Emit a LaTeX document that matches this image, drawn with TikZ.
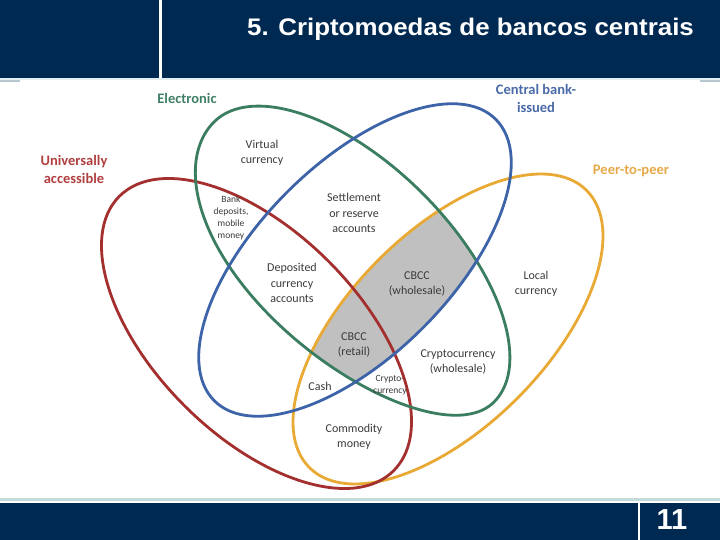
\documentclass[tikz,border=0pt]{standalone}
\usepackage{fontspec}
\usepackage{graphicx}
\setmainfont{Carlito}
\newfontfamily\arialfont{Liberation Sans}
\definecolor{navy}{RGB}{0,41,82}
\definecolor{vgreen}{HTML}{3B7D60}
\definecolor{vblue}{HTML}{3D64A8}
\definecolor{vred}{HTML}{A3302F}
\definecolor{vorange}{HTML}{E8A935}
\definecolor{lgreen}{HTML}{3F7F66}
\definecolor{lblue}{HTML}{4A6AA8}
\definecolor{lred}{HTML}{B0403F}
\definecolor{lorange}{HTML}{E6A94A}
\definecolor{txt}{HTML}{3A3A3A}
\definecolor{cbcc}{RGB}{192,192,192}
\definecolor{hline}{HTML}{E2EEF0}
\definecolor{hseg}{HTML}{B8C8D0}
\definecolor{fline}{HTML}{C5DADA}
\begin{document}
\begin{tikzpicture}[x=1pt,y=-1pt,
  venn/.style={line width=2.8pt, line join=round},
  greenrot/.style={rotate around={-45:(354,262)}},
  bluerot/.style={rotate around={45:(355,260)}},
  redrot/.style={rotate around={-45:(256.5,333.5)}},
  orangerot/.style={rotate around={45:(448,329)}},
  lbl/.style={font=\fontsize{12}{15.5}\selectfont, text=txt, align=center, inner sep=0pt},
  smalllbl/.style={font=\fontsize{9.5}{12}\selectfont, text=txt, align=center, inner sep=0pt},
  cat/.style={font=\fontsize{14.5}{18}\selectfont\bfseries, align=center, inner sep=0pt}]
\useasboundingbox (0,0) rectangle (720,540);
% header
\fill[navy] (0,0) rectangle (720,78);
\fill[white] (159,0) rectangle (161.8,78);
\fill[hline] (0,78) rectangle (720,80);
\fill[hseg] (0,80) rectangle (20,82.5);
\fill[hseg] (700,80) rectangle (720,82.5);
\node[anchor=base west, inner sep=0pt, text=white, font=\arialfont\bfseries\fontsize{24}{28}\selectfont] (title) at (247,36) {\scalebox{1.078}[1]{5. Criptomoedas de bancos centrais}};
% footer
\fill[fline] (0,497.8) rectangle (720,500.5);
\fill[navy] (0,502.5) rectangle (720,540);
\fill[white] (637.5,502.5) rectangle (639.8,540);
\node[inner sep=0pt, text=white, font=\arialfont\bfseries\fontsize{29}{32}\selectfont] (page) at (672,520) {11};
% the "electronic" oval is egg-shaped: wider at its upper-left end
\def\greenegg{plot[domain=0:360, samples=181] ({354+198*cos(\x)}, {262+97*sin(\x)-9.7*cos(\x)*max(sin(\x),0)}) -- cycle}
% CBCC region: inside electronic, central-bank-issued and peer-to-peer
\begin{scope}
  \clip[greenrot] \greenegg;
  \clip[bluerot] (355,260) ellipse [x radius=199pt, y radius=96pt];
  \fill[cbcc, orangerot] (448,329) ellipse [x radius=196pt, y radius=98pt];
\end{scope}
% the four sets
\draw[venn, vorange, orangerot] (448,329) ellipse [x radius=196pt, y radius=98pt];
\draw[venn, vred, redrot] (256.5,333.5) ellipse [x radius=194pt, y radius=102pt];
\draw[venn, vgreen, greenrot] \greenegg;
\draw[venn, vblue, bluerot] (355,260) ellipse [x radius=199pt, y radius=96pt];
% category labels
\node[cat, text=lgreen] (electronic) at (187,98) {Electronic};
\node[cat, text=lred] (universal) at (74,169) {Universally\\accessible};
\node[cat, text=lblue] (cbissued) at (536,98) {Central bank-\\issued};
\node[cat, text=lorange] (p2p) at (631,171) {Peer-to-peer};
% region labels
\node[lbl] (virtual) at (262,153) {Virtual\\currency};
\node[smalllbl] (bank) at (231,218) {Bank\\deposits,\\mobile\\money};
\node[lbl] (settle) at (354,213) {Settlement\\or reserve\\accounts};
\node[lbl] (deposited) at (292,283) {Deposited\\currency\\accounts};
\node[lbl] (cbccw) at (417,284) {CBCC\\(wholesale)};
\node[lbl] (local) at (536,284) {Local\\currency};
\node[lbl] (cbccr) at (354,345) {CBCC\\(retail)};
\node[lbl] (cryptow) at (458,362) {Cryptocurrency\\(wholesale)};
\node[lbl] (cash) at (320,386) {Cash};
\node[smalllbl] (crypto) at (390,385) {Crypto-\\currency};
\node[lbl] (commodity) at (354,437) {Commodity\\money};
\end{tikzpicture}
\end{document}
